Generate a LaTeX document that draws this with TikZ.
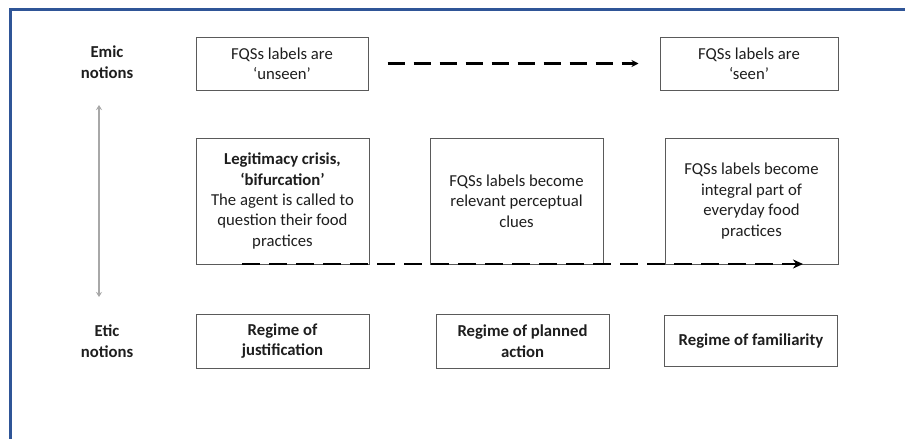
\documentclass[tikz,border=0pt]{standalone}
\usepackage{fontspec}
\setmainfont{Carlito}
\usetikzlibrary{arrows.meta}
\definecolor{frameblue}{HTML}{2F5597}
\definecolor{boxline}{HTML}{5A5A5A}
\definecolor{txt}{HTML}{1E1E1E}
\definecolor{axisgray}{HTML}{A8A8A8}
\tikzset{
  box/.style={draw=boxline, line width=1pt, inner sep=0pt, align=center, text=txt,
    font=\fontsize{16.7}{20.4}\selectfont},
  boldbox/.style={box, font=\fontsize{16.7}{20.6}\selectfont\bfseries},
  rowlabel/.style={align=center, text=txt, font=\fontsize{16.7}{21}\selectfont\bfseries},
  dasharrow/.style={line width=2.7pt, dash pattern=on 18pt off 9pt, -{Stealth[length=10pt,width=9pt]}},
  smalldasharrow/.style={line width=2.6pt, dash pattern=on 17pt off 9pt, -{Stealth[length=7pt,width=7pt]}},
  axisarrow/.style={axisgray, line width=2.4pt, {Stealth[length=5pt,width=6pt]}-{Stealth[length=5pt,width=6pt]}}
}
\begin{document}
\begin{tikzpicture}[x=1pt,y=-1pt]
\useasboundingbox (0,0) rectangle (905,439);
\fill[white] (0,0) rectangle (905,439);
% frame
\draw[frameblue, line width=3pt] (10,441) -- (10,9) -- (907,9);
% row labels
\node[rowlabel] (emic) at (107,62) {Emic\\notions};
\node[rowlabel] (etic) at (107,341) {Etic\\notions};
% axis arrow
\coordinate (axtop) at (99,105);
\coordinate (axbot) at (99,297);
\draw[axisarrow] (axtop) -- (axbot);
% top boxes
\node[box, minimum width=172pt, minimum height=53pt] (unseen) at (282,63.5) {FQSs labels are\\‘unseen’};
\node[box, minimum width=178pt, minimum height=53pt] (seen) at (749,63.5) {FQSs labels are\\‘seen’};
\draw[smalldasharrow, shorten <=19pt, shorten >=21pt] (unseen.east) -- (seen.west);
% middle boxes
\node[box, minimum width=173pt, minimum height=126pt] (crisis) at (282.5,201)
  {\textbf{Legitimacy crisis,}\\\textbf{‘bifurcation’}\\The agent is called to\\question their food\\practices};
\node[box, minimum width=173pt, minimum height=126pt] (clues) at (516.5,201)
  {FQSs labels become\\relevant perceptual\\clues};
\node[box, minimum width=173pt, minimum height=126pt] (integral) at (751.5,201)
  {FQSs labels become\\integral part of\\everyday food\\practices};
\coordinate (dstart) at (242,264);
\coordinate (dend) at (803,264);
\draw[dasharrow] (dstart) -- (dend);
% bottom boxes
\node[boldbox, minimum width=173pt, minimum height=54pt] (justif) at (282.5,341) {Regime of\\justification};
\node[boldbox, minimum width=173pt, minimum height=54pt] (planned) at (522.5,341) {Regime of planned\\action};
\node[boldbox, minimum width=173pt, minimum height=51pt] (famil) at (751,341) {Regime of familiarity};
\end{tikzpicture}
\end{document}
